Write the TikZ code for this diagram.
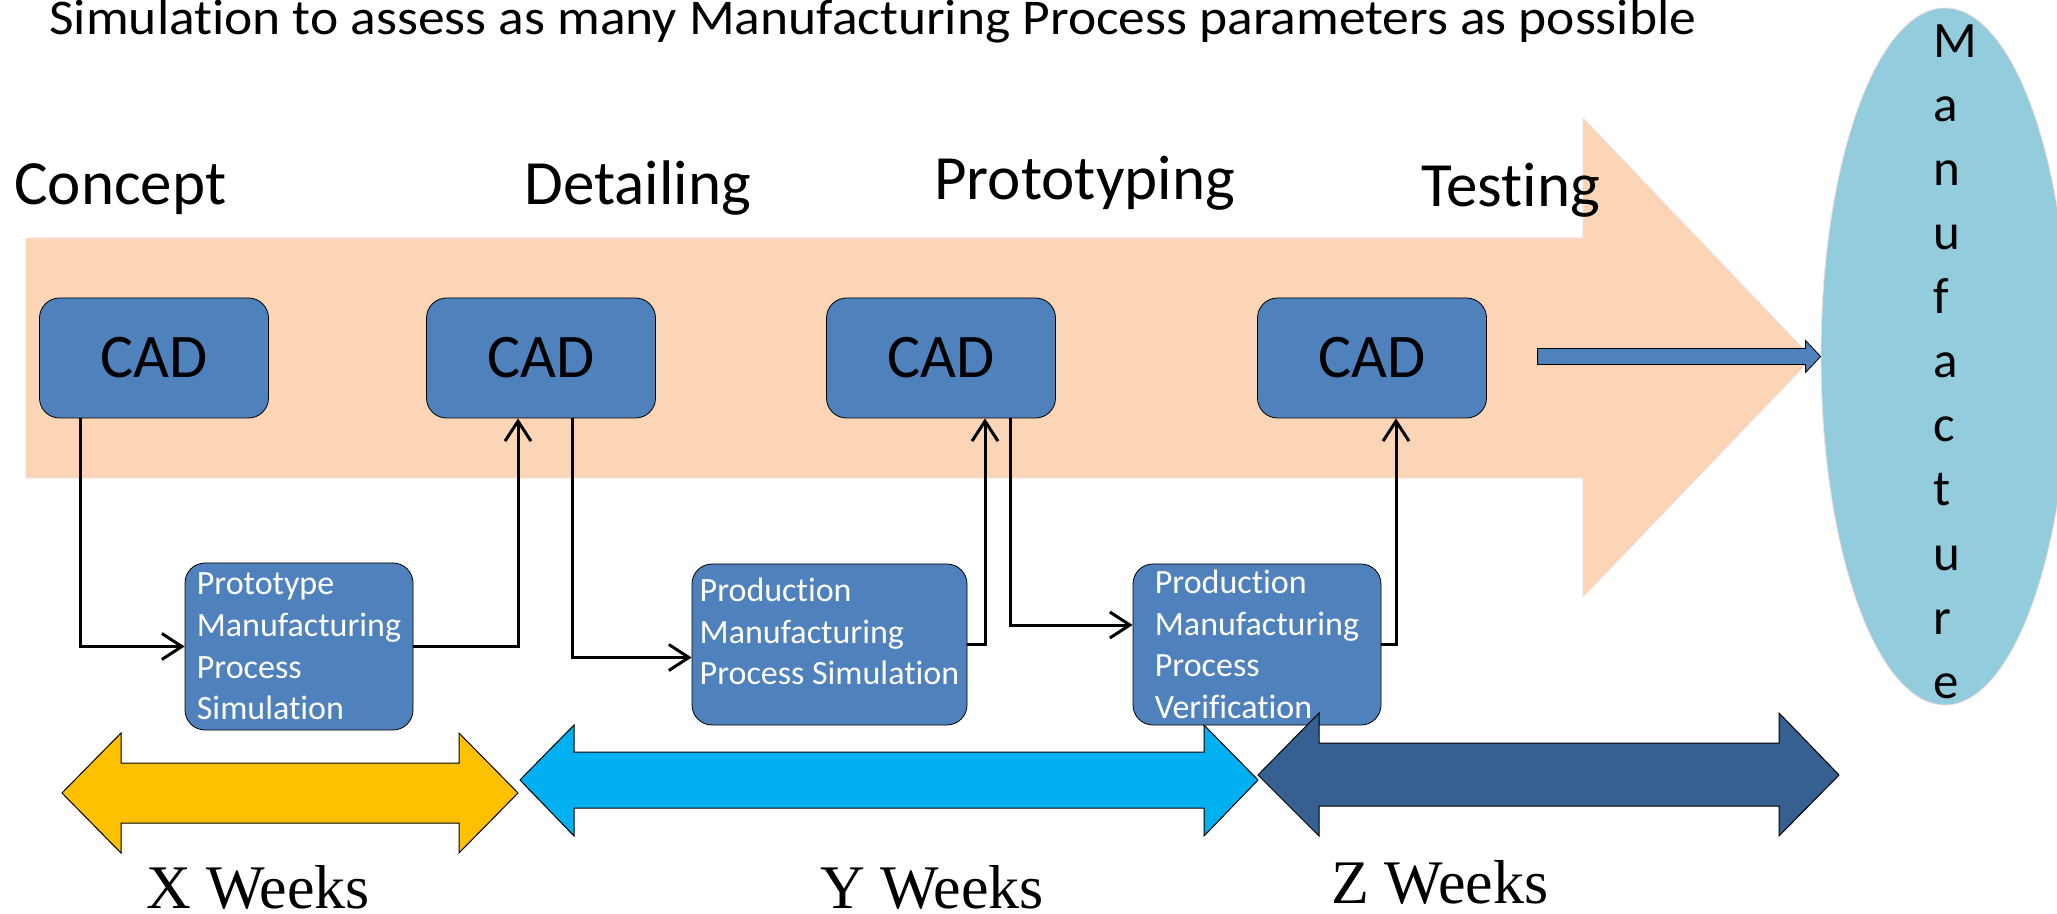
\documentclass[tikz,border=0pt]{standalone}
\usepackage{fontspec}
\setmainfont{Carlito}[Ligatures=NoCommon]
\newfontfamily\titlefont{Carlito}[FakeStretch=1.07, Ligatures=NoCommon]
\newfontfamily\timesfont{Liberation Serif}
\usetikzlibrary{shapes.geometric,arrows.meta}
\definecolor{peach}{HTML}{FBD5B5}
\definecolor{cadblue}{HTML}{4F81BD}
\definecolor{mfgblue}{HTML}{93CDDD}
\definecolor{xgold}{HTML}{FFC000}
\definecolor{ycyan}{HTML}{00B0F0}
\definecolor{zblue}{HTML}{376092}
\definecolor{rim}{HTML}{F2DCDB}
\begin{document}
\begin{tikzpicture}[x=0.5pt, y=-0.5pt,
        cad/.style={draw, fill=cadblue, rounded corners=10pt, minimum width=114.5pt, minimum height=60pt, inner sep=2pt, font=\fontsize{31}{37}\selectfont},
        proc/.style={draw, fill=cadblue, rounded corners=10pt, text=white, align=left, inner sep=2pt, font=\fontsize{17}{20.8}\selectfont},
        phase/.style={anchor=base west, inner sep=0pt, font=\fontsize{31.5}{38}\selectfont},
        weeks/.style={anchor=base, inner sep=0pt, font=\timesfont\fontsize{31}{37}\selectfont},
        span/.style={draw, line width=0.5pt},
        conn/.style={line width=1.5pt, -{Straight Barb[length=10pt, width=13pt]}}]
    \useasboundingbox (0,0) rectangle (2057,914);

    % big process arrow
    \draw[fill=peach, draw=rim] (26,238) -- (1583,238) -- (1583,118) -- (1812,358) -- (1583,597) -- (1583,478) -- (26,478) -- cycle;

    \node[anchor=base west, inner sep=0pt, font=\titlefont\fontsize{25}{30}\selectfont] (title) at (49,35) {Simulation to assess as many Manufacturing Process parameters as possible};

    \node[style=phase] (concept) at (14,205) {Concept};
    \node[style=phase] (detail) at (524,205) {Detailing};
    \node[style=phase] (proto) at (934,200) {Prototyping};
    \node[style=phase] (test) at (1421,207) {Testing};

    \node[style=cad] (cad1) at (154,358) {CAD};
    \node[style=cad] (cad2) at (541,358) {CAD};
    \node[style=cad] (cad3) at (941,358) {CAD};
    \node[style=cad] (cad4) at (1372,358) {CAD};

    \node[style=proc, minimum width=114pt, minimum height=83.5pt] (p1) at (299,646.5) {Prototype\\Manufacturing\\Process\\Simulation};
    \node[style=proc, minimum width=137.5pt, minimum height=80.5pt] (p2) at (829.5,644.5) {Production\\Manufacturing\\Process Simulation\rule[-13pt]{0pt}{13pt}};
    \node[style=proc, minimum width=124pt, minimum height=80.5pt] (p3) at (1257,644.5) {Production\\Manufacturing\\Process\\Verification};

    % manufacture
    \begin{scope}
        \clip (0,0) rectangle (2057,914);
        \node[ellipse, draw=rim, fill=mfgblue, inner sep=0pt, minimum width=124pt, minimum height=348.5pt] (mfg) at (1945,356.5) {};
    \end{scope}
    \foreach \c [count=\i from 0] in {M,a,n,u,f,a,c,t,u,r,e}
        \node[anchor=base west, inner sep=0pt, font=\fontsize{25.5}{30}\selectfont] (let\i) at (1933,58+64*\i) {\c};

    \draw[fill=cadblue] (mfg.west) -- ++(-15,-16) -- ++(0,8) -- ++(-268,0) -- ++(0,16) -- ++(268,0) -- ++(0,8) -- cycle;

    \draw[style=conn] ([xshift=-37pt]cad1.south) |- (p1.west);
    \draw[style=conn] (p1.east) -| ([xshift=-11.5pt]cad2.south);
    \draw[style=conn] ([xshift=15.5pt]cad2.south) |- ([yshift=-6.5pt]p2.west);
    \draw[style=conn] (p2.east) -| ([xshift=22pt]cad3.south);
    \draw[style=conn] ([xshift=34.5pt]cad3.south) |- ([yshift=9.75pt]p3.west);
    \draw[style=conn] (p3.east) -| ([xshift=12pt]cad4.south);

    % week spans
    \draw[style=span, fill=xgold] (62,793) -- (121,733) -- (121,763) -- (459,763) -- (459,733) -- (518,793) -- (459,853) -- (459,823) -- (121,823) -- (121,853) -- cycle;
    \draw[style=span, fill=ycyan] (520,780) -- (574,725) -- (574,752) -- (1204,752) -- (1204,725) -- (1258,780) -- (1204,836) -- (1204,808) -- (574,808) -- (574,836) -- cycle;
    \draw[style=span, fill=zblue] (1258,775) -- (1319,713) -- (1319,743) -- (1779,743) -- (1779,713) -- (1839,775) -- (1779,836) -- (1779,806) -- (1319,806) -- (1319,836) -- cycle;

    \node[style=weeks] (xw) at (258,908) {X Weeks};
    \node[style=weeks] (yw) at (932,908) {Y Weeks};
    \node[style=weeks] (zw) at (1440,903) {Z Weeks};
\end{tikzpicture}
\end{document}
